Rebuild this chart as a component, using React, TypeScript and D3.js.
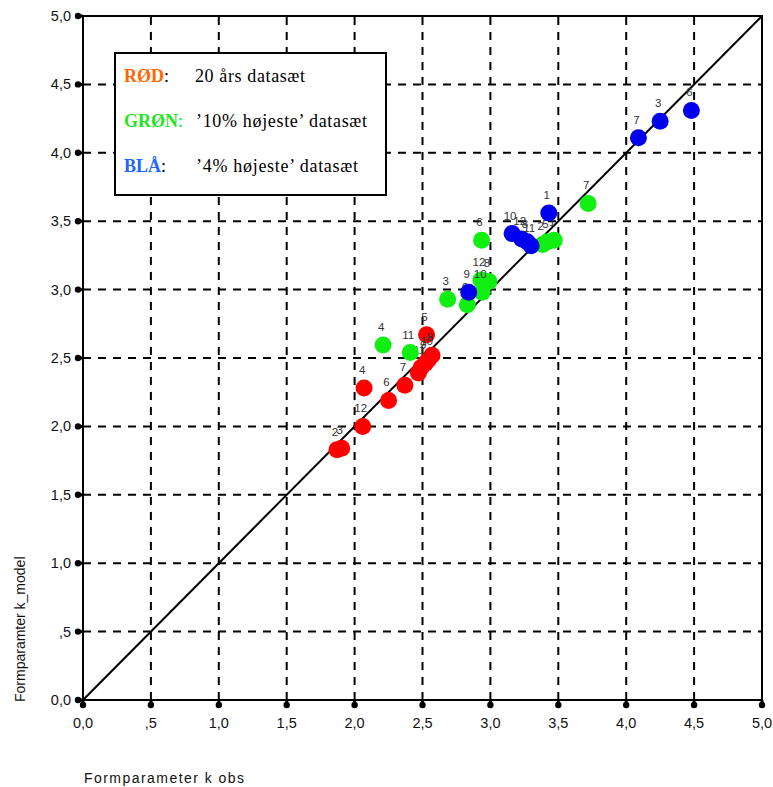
import React from "react";
import * as d3 from "d3";

// Tick values and their Danish-formatted labels
const tickValues = [0, 0.5, 1, 1.5, 2, 2.5, 3, 3.5, 4, 4.5, 5];
const tickLabels = ["0,0", ",5", "1,0", "1,5", "2,0", "2,5", "3,0", "3,5", "4,0", "4,5", "5,0"];

// RØD: 20 års datasæt
const redIds = [1, 2, 3, 4, 5, 6, 7, 8, 9, 10, 11, 12];
const redObs = [2.47, 1.87, 1.905, 2.07, 2.53, 2.25, 2.37, 2.57, 2.52, 2.545, 2.49, 2.06];
const redModel = [2.39, 1.83, 1.84, 2.28, 2.67, 2.19, 2.3, 2.52, 2.46, 2.49, 2.43, 2.0];

// GRØN: '10% højeste' datasæt
const greenIds = [1, 2, 3, 4, 5, 6, 7, 8, 9, 10, 11, 12];
const greenObs = [3.47, 3.385, 2.685, 2.21, 3.42, 2.935, 3.72, 2.99, 2.83, 2.94, 2.41, 2.93];
const greenModel = [3.36, 3.33, 2.93, 2.595, 3.35, 3.36, 3.63, 3.06, 2.89, 2.98, 2.54, 3.07];

// BLÅ: '4% højeste' datasæt
const blueIds = [1, 3, 6, 7, 8, 9, 10, 11, 12];
const blueObs = [3.43, 4.25, 4.48, 4.09, 3.27, 2.84, 3.16, 3.3, 3.23];
const blueModel = [3.56, 4.23, 4.31, 4.11, 3.35, 2.98, 3.41, 3.32, 3.37];

const W = 773;
const H = 787;
const left = 83;
const right = 762;
const top = 16;
const bottom = 700;

const x = d3.scaleLinear().domain([0, 5]).range([left, right]);
const y = d3.scaleLinear().domain([0, 5]).range([bottom, top]);

const sans = "'Liberation Sans', Arial, sans-serif";
const serif = "'Liberation Serif', 'Times New Roman', serif";

type Series = { ids: number[]; obs: number[]; model: number[]; color: string };

const series: Series[] = [
  { ids: redIds, obs: redObs, model: redModel, color: "#ff0000" },
  { ids: greenIds, obs: greenObs, model: greenModel, color: "#11ee11" },
  { ids: blueIds, obs: blueObs, model: blueModel, color: "#0000ee" },
];

export default function App() {
  const gridVals = tickValues.slice(1, -1);
  const diag = d3.line<number>().x((d) => x(d)).y((d) => y(d));
  return (
    <svg
      width={W}
      height={H}
      style={{ position: "absolute", left: 0, top: 0, background: "#fff" }}
    >
      <rect x={0} y={0} width={W} height={H} fill="#fff" />
      {/* dashed grid */}
      {gridVals.map((v) => (
        <g key={"g" + v}>
          <line x1={x(v)} x2={x(v)} y1={bottom} y2={top} stroke="#000" strokeWidth={2} strokeDasharray="8,7" />
          <line x1={left} x2={right} y1={y(v)} y2={y(v)} stroke="#000" strokeWidth={2} strokeDasharray="8,7" />
        </g>
      ))}
      {/* frame */}
      <rect x={left} y={top} width={right - left} height={bottom - top} fill="none" stroke="#000" strokeWidth={2} />
      {/* 1:1 line */}
      <path d={diag([0, 5]) || ""} stroke="#000" strokeWidth={2} fill="none" />
      {/* ticks and tick labels */}
      {tickValues.map((v, i) => (
        <g key={"t" + v}>
          <circle cx={x(v)} cy={bottom + 5} r={3.2} fill="#000" />
          <line x1={x(v)} x2={x(v)} y1={bottom} y2={bottom + 5} stroke="#000" strokeWidth={3} />
          <circle cx={left - 5} cy={y(v)} r={3.2} fill="#000" />
          <line x1={left - 5} x2={left} y1={y(v)} y2={y(v)} stroke="#000" strokeWidth={3} />
          <text x={x(v)} y={bottom + 28} textAnchor="middle" fontFamily={sans} fontSize={14.5} fill="#111">
            {tickLabels[i]}
          </text>
          <text x={71} y={y(v) + 5} textAnchor="end" fontFamily={sans} fontSize={14.5} fill="#111">
            {tickLabels[i]}
          </text>
        </g>
      ))}
      {/* legend */}
      <rect x={115} y={53} width={271} height={142} fill="#fff" stroke="#000" strokeWidth={2} />
      <g fontFamily={serif} fontSize={18}>
        <text x={124} y={82}>
          <tspan fill="#ff6600" fontWeight="bold">RØD</tspan>
          <tspan fill="#000">:</tspan>
        </text>
        <text x={195} y={82} fill="#000" textLength={110} lengthAdjust="spacing">20 års datasæt</text>
        <text x={124} y={127}>
          <tspan fill="#22e622" fontWeight="bold">GRØN</tspan>
          <tspan fill="#22e622">:</tspan>
        </text>
        <text x={196} y={127} fill="#000" textLength={171} lengthAdjust="spacing">’10% højeste’ datasæt</text>
        <text x={124} y={172}>
          <tspan fill="#2266ff" fontWeight="bold">BLÅ</tspan>
          <tspan fill="#000">:</tspan>
        </text>
        <text x={196} y={172} fill="#000" textLength={162} lengthAdjust="spacing">’4% højeste’ datasæt</text>
      </g>
      {/* points with station numbers */}
      {series.map((s, si) => (
        <g key={"s" + si}>
          {s.obs.map((o, i) => (
            <circle key={"c" + i} cx={x(o)} cy={y(s.model[i])} r={8.5} fill={s.color} />
          ))}
          {s.obs.map((o, i) => (
            <text
              key={"l" + i}
              x={x(o) - 2}
              y={y(s.model[i]) - 14}
              textAnchor="middle"
              fontFamily={sans}
              fontSize={11.5}
              fill="#333"
            >
              {s.ids[i]}
            </text>
          ))}
        </g>
      ))}
      {/* axis titles */}
      <text x={84} y={783} fontFamily={sans} fontSize={14} fill="#111" textLength={160} lengthAdjust="spacing">
        Formparameter k obs
      </text>
      <text
        transform="translate(25,702) rotate(-90)"
        fontFamily={sans}
        fontSize={14}
        fill="#111"
      >
        Formparamter k_model
      </text>
    </svg>
  );
}
